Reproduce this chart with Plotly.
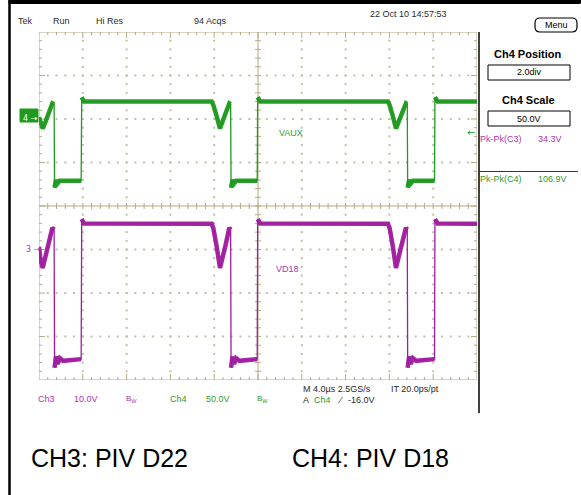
import plotly.graph_objects as go

W, H = 581, 495

# ---------------- scope settings ----------------
time_per_div = 4.0          # µs / div
n_xdiv, n_ydiv = 10, 8
ch3_scale, ch3_pos = 10.0, -1.0   # V/div, div
ch4_scale, ch4_pos = 50.0, 2.0    # V/div, div
trig_time = -16.0                 # µs (orange marker)
trig_level = -16.0                # V on Ch4

# ---------------- waveform data ----------------
# Ch4 (VAUX), time in µs, volts
ch4_t = [-20.0, -19.85, -19.66, -19.4, -19.1, -18.78, -18.62, -18.58, -18.45, -18.3, -18.1,
         -16.15, -16.1, -15.9, -4.23, -4.08, -3.77, -3.47, -3.01, -2.62, -2.5, -2.46, -2.33,
         -2.18, -2.0, -0.07, -0.03, 0.2, 11.87, 12.02, 12.32, 12.6, 13.1, 13.51, 13.63, 13.67,
         13.8, 13.95, 14.15, 16.12, 16.16, 16.4, 20.0]
ch4_v = [2, -5, -11, -3, 8, 18, 17, -79, -70, -74, -71,
         -71, 25, 20, 20, 16, 3, -11, 5, 18, 17, -79, -70,
         -74, -71, -71, 25, 20, 20, 16, 3, -11, 5, 18, 17, -79,
         -70, -74, -71, -71, 25, 20, 20]

# Ch3 (VD18), time in µs, volts
ch3_t = [-20.0, -19.85, -19.66, -19.3, -19.0, -18.78, -18.62, -18.58, -18.45, -18.3, -18.1, -17.8,
         -16.15, -16.1, -15.9, -4.23, -4.08, -3.77, -3.47, -3.0, -2.62, -2.5, -2.46, -2.33, -2.18,
         -2.0, -1.7, -0.07, -0.03, 0.2, 11.87, 12.02, 12.32, 12.6, 13.07, 13.51, 13.63, 13.67,
         13.8, 13.95, 14.15, 14.45, 16.12, 16.16, 16.4, 20.0]
ch3_v = [0.6, -2.5, -4.25, -0.5, 2.5, 5.0, 4.6, -27.2, -24.6, -26.3, -25.0, -25.6,
         -25.2, 7.0, 6.0, 5.9, 4.9, 0.6, -4.25, 0.6, 5.0, 4.6, -27.2, -24.6, -26.3,
         -25.0, -25.6, -25.2, 7.0, 6.0, 5.9, 4.9, 0.6, -4.25, 0.6, 5.0, 4.6, -27.2,
         -24.6, -26.3, -25.0, -25.6, -25.2, 7.0, 6.0, 5.9]

# ---------------- colours ----------------
GREEN = "#1e9a1e"
PURPLE = "#a01ca0"
GREEN_T = "#2f9a2f"
PURPLE_T = "#b032b0"
TAN = "#b3aa86"
DOT = "#c4bea6"
FONT = "Liberation Sans"

# graticule pixel box
GX0, GX1, GY0, GY1 = 39, 477, 32, 380
xr = [-time_per_div * n_xdiv / 2, time_per_div * n_xdiv / 2]
yr = [-n_ydiv / 2, n_ydiv / 2]
px_x = (xr[1] - xr[0]) / (GX1 - GX0)
px_y = (yr[1] - yr[0]) / (GY1 - GY0)

def ch_range(scale, pos):
    return [(-n_ydiv / 2 - pos) * scale, (n_ydiv / 2 - pos) * scale]

fig = go.Figure()

# ---------------- graticule ----------------
minor_x = [xr[0] + k * time_per_div / 5 for k in range(n_xdiv * 5 + 1)]
minor_y = [yr[0] + k * 0.2 for k in range(n_ydiv * 5 + 1)]

def is_major_x(t):
    return abs(round(t / time_per_div) * time_per_div - t) < 1e-6

def is_major_y(d):
    return abs(round(d) - d) < 1e-6

gx, gy = [], []
def seg(x0, y0, x1, y1):
    gx.extend([x0, x1, None]); gy.extend([y0, y1, None])

# border
seg(xr[0], yr[0], xr[1], yr[0]); seg(xr[1], yr[0], xr[1], yr[1])
seg(xr[1], yr[1], xr[0], yr[1]); seg(xr[0], yr[1], xr[0], yr[0])
# centre cross
seg(0, yr[0], 0, yr[1]); seg(xr[0], 0, xr[1], 0)
for t in minor_x[1:-1]:
    L = 6 if is_major_x(t) else 3
    seg(t, yr[1], t, yr[1] - L * px_y)
    seg(t, yr[0], t, yr[0] + L * px_y)
    seg(t, -3 * px_y, t, 3 * px_y)
for d in minor_y[1:-1]:
    L = 6 if is_major_y(d) else 3
    seg(xr[0], d, xr[0] + L * px_x, d)
    seg(xr[1], d, xr[1] - L * px_x, d)
    seg(-3 * px_x, d, 3 * px_x, d)

fig.add_trace(go.Scatter(x=gx, y=gy, mode="lines", line=dict(color=TAN, width=1),
                         xaxis="x", yaxis="y", hoverinfo="skip", showlegend=False))

dx, dy = [], []
for k in range(1, n_xdiv):
    t = xr[0] + k * time_per_div
    if abs(t) < 1e-6:
        continue
    for d in minor_y[1:-1]:
        dx.append(t); dy.append(d)
for k in range(1, n_ydiv):
    d = yr[0] + k
    if abs(d) < 1e-6:
        continue
    for t in minor_x[1:-1]:
        dx.append(t); dy.append(d)
fig.add_trace(go.Scatter(x=dx, y=dy, mode="markers",
                         marker=dict(color=DOT, size=2, symbol="square", line=dict(width=0)),
                         xaxis="x", yaxis="y", hoverinfo="skip", showlegend=False))

# ---------------- waveforms ----------------
def band(ts, vs, scale):
    """Same points, with the steep switching edges left out (edges are drawn thin)."""
    bx, by = [ts[0]], [vs[0]]
    for i in range(1, len(ts)):
        if ts[i] - ts[i - 1] < 0.1 and abs(vs[i] - vs[i - 1]) > 1.5 * scale:
            bx.append(None); by.append(None)
        bx.append(ts[i]); by.append(vs[i])
    return bx, by

for ts, vs, sc, col, ax in [(ch4_t, ch4_v, ch4_scale, GREEN, "y2"),
                            (ch3_t, ch3_v, ch3_scale, PURPLE, "y3")]:
    fig.add_trace(go.Scatter(x=ts, y=vs, mode="lines", line=dict(color=col, width=1.3),
                             xaxis="x", yaxis=ax, hoverinfo="skip", showlegend=False))
    bx, by = band(ts, vs, sc)
    fig.add_trace(go.Scatter(x=bx, y=by, mode="lines", line=dict(color=col, width=4.5),
                             connectgaps=False, opacity=0.95,
                             xaxis="x", yaxis=ax, hoverinfo="skip", showlegend=False))

# trigger position marker
fig.add_trace(go.Scatter(x=[trig_time], y=[yr[1] + 2.0 * px_y], mode="markers",
                         marker=dict(symbol="triangle-down", size=9, color="#f26a1b", line=dict(width=0)),
                         xaxis="x", yaxis="y", cliponaxis=False, hoverinfo="skip", showlegend=False))

dom_x = [GX0 / W, GX1 / W]
dom_y = [1 - GY1 / H, 1 - GY0 / H]
hidden = dict(showgrid=False, zeroline=False, showticklabels=False, ticks="", showline=False)
fig.update_layout(
    width=W, height=H, margin=dict(l=0, r=0, t=0, b=0),
    paper_bgcolor="white", plot_bgcolor="white",
    xaxis=dict(range=xr, domain=dom_x, **hidden),
    yaxis=dict(range=yr, domain=dom_y, **hidden),
    yaxis2=dict(range=ch_range(ch4_scale, ch4_pos), domain=dom_y, overlaying="y", **hidden),
    yaxis3=dict(range=ch_range(ch3_scale, ch3_pos), domain=dom_y, overlaying="y", **hidden),
    showlegend=False, hovermode=False,
)

# ---------------- decoration helpers (pixel -> paper) ----------------
def P(x, y):
    return x / W, 1 - y / H

shapes = []
def line_px(x0, y0, x1, y1, color="black", width=1):
    a, b = P(x0, y0); c, d = P(x1, y1)
    shapes.append(dict(type="line", xref="paper", yref="paper", x0=a, y0=b, x1=c, y1=d,
                       line=dict(color=color, width=width)))

def rect_px(x0, y0, x1, y1, color="black", width=1, fill="rgba(0,0,0,0)"):
    a, b = P(x0, y0); c, d = P(x1, y1)
    shapes.append(dict(type="rect", xref="paper", yref="paper", x0=a, y0=b, x1=c, y1=d,
                       line=dict(color=color, width=width), fillcolor=fill))

ann = []
def txt(x, y, s, size=9, color="#2a2a2a", xanchor="center", bold=False):
    a, b = P(x, y)
    ann.append(dict(x=a, y=b, xref="paper", yref="paper", text=(f"<b>{s}</b>" if bold else s),
                    showarrow=False, xanchor=xanchor, yanchor="middle",
                    font=dict(family=FONT, size=size, color=color)))

# frame lines
rect_px(8.5, 0.5, W - 0.5, 4, color="black", width=0, fill="black")
line_px(9.5, 0, 9.5, H, width=2.5)
line_px(479, 32, 479, 413, width=1.5)
line_px(479, 171.5, 578, 171.5, color="#333333", width=1)
# top frame bar drawn also as a filled annotation box
ann.append(dict(x=8.5 / W, y=1.0, xref="paper", yref="paper", text=" ", showarrow=False,
                xanchor="left", yanchor="top", width=W - 9, height=3, bgcolor="black",
                borderpad=0, borderwidth=0, font=dict(size=2, color="black")))

# top status line
txt(25, 21, "Tek")
txt(61, 21, "Run")
txt(110, 21, "Hi Res")
txt(210.5, 21, "94 Acqs")
txt(409, 14, "22 Oct 10 14:57:53")

# Menu button
x0, y0, x1, y1, r = 535, 18, 577, 32, 5
a0, b0 = P(x0, y0); a1, b1 = P(x1, y1); rx, ry = r / W, r / H
path = (f"M {a0+rx},{b0} L {a1-rx},{b0} Q {a1},{b0} {a1},{b0-ry} L {a1},{b1+ry} "
        f"Q {a1},{b1} {a1-rx},{b1} L {a0+rx},{b1} Q {a0},{b1} {a0},{b1+ry} "
        f"L {a0},{b0-ry} Q {a0},{b0} {a0+rx},{b0} Z")
shapes.append(dict(type="path", xref="paper", yref="paper", path=path,
                   line=dict(color="black", width=1.2)))
txt(556, 25, "Menu", size=9, color="black")

# right panel
txt(528, 54, "Ch4 Position", size=11, color="black", bold=True)
rect_px(488, 65, 570, 80, width=1)
txt(529, 72.5, "2.0div", size=9, color="black")
txt(528, 100, "Ch4 Scale", size=11, color="black", bold=True)
rect_px(488, 111, 570, 126, width=1)
txt(529, 118.5, "50.0V", size=9, color="black")
txt(478, 139, "Pk-Pk(C3)", color=PURPLE_T, xanchor="left")
txt(550, 139, "34.3V", color=PURPLE_T)
txt(478, 179, "Pk-Pk(C4)", color=GREEN_T, xanchor="left")
txt(552, 179, "106.9V", color=GREEN_T)

# trigger level arrow (Ch4 axis)
ann.append(dict(x=GX1 / W, y=trig_level, xref="paper", yref="y2", text="←", showarrow=False,
                xanchor="right", yanchor="middle", font=dict(family="DejaVu Sans", size=10, color=GREEN)))

# channel ground markers
rect_px(20, 109, 38, 122, color=GREEN, width=1, fill=GREEN)
ann.append(dict(x=21 / W, y=ch4_pos, xref="paper", yref="y", text="4 →", showarrow=False,
                xanchor="left", yanchor="middle", font=dict(family="DejaVu Sans", size=8, color="white")))
ann.append(dict(x=24 / W, y=ch3_pos, xref="paper", yref="y", text="3 →", showarrow=False,
                xanchor="left", yanchor="middle", font=dict(family="DejaVu Sans", size=8, color=PURPLE_T)))

# channel labels
txt(291, 133, "VAUX", color=GREEN_T)
txt(287, 269, "VD18", color=PURPLE_T)

# bottom status
txt(46.5, 399, "Ch3", color=PURPLE_T)
txt(86, 399, "10.0V", color=PURPLE_T)
txt(131, 399, "B<sub>W</sub>", size=8, color=PURPLE_T)
txt(178, 399, "Ch4", color=GREEN_T)
txt(217.5, 399, "50.0V", color=GREEN_T)
txt(262.5, 399, "B<sub>W</sub>", size=8, color=GREEN_T)
txt(301, 388.5, "M 4.0µs 2.5GS/s", xanchor="left")
txt(389, 388.5, "IT 20.0ps/pt", xanchor="left")
txt(301, 399.5, "A", xanchor="left")
txt(312, 399.5, "Ch4", color=GREEN_T, xanchor="left")
txt(336, 399.5, "⁄", xanchor="left")
txt(346, 399.5, "-16.0V", xanchor="left")

# big captions
txt(109, 458, "CH3: PIV D22", size=25, color="black")
txt(370, 458, "CH4: PIV D18", size=25, color="black")

fig.update_layout(shapes=shapes, annotations=ann)
fig.write_html("out.html", config={"displayModeBar": False, "staticPlot": True},
               post_script="document.body.style.margin='0px';")
